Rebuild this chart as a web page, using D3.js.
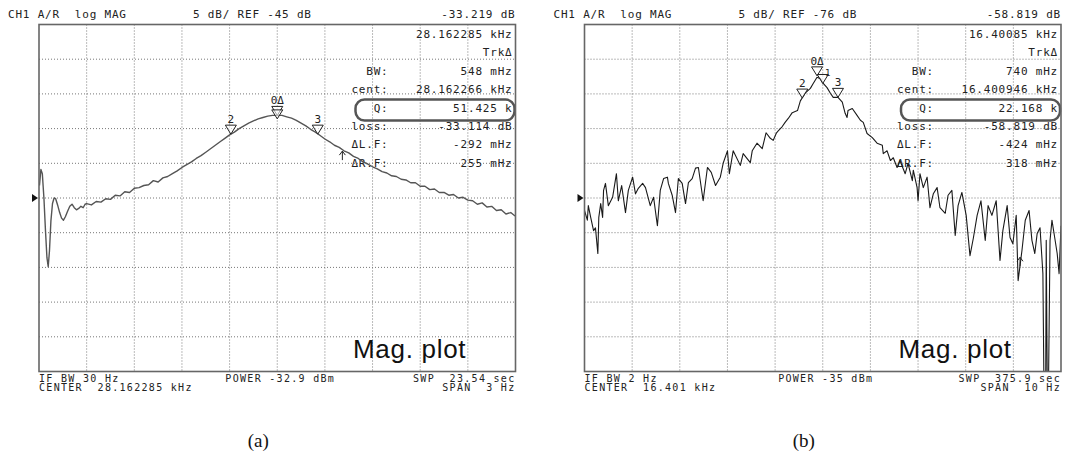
<!DOCTYPE html>
<html>
<head>
<meta charset="utf-8">
<script src="https://cdn.jsdelivr.net/npm/d3@7"></script>
<style>
body { margin: 0; background: #fff; }
svg { display: block; }
.mono { font-family: "DejaVu Sans Mono", "Liberation Mono", monospace; fill: #222; white-space: pre; }
</style>
</head>
<body>
<svg id="chart" width="1065" height="457"></svg>
<script>
// ---- data read off the two analyser screens ----
// trace (a): [offset from centre in Hz, magnitude in dB]
var traceA = [
  [-1.497,-43.2],[-1.488,-40.9],[-1.479,-41.5],[-1.469,-45.0],[-1.459,-49.8],[-1.450,-53.6],[-1.442,-54.9],
  [-1.434,-52.6],[-1.425,-48.3],[-1.415,-45.8],[-1.405,-45.0],[-1.395,-45.1],[-1.383,-46.0],[-1.370,-47.1],
  [-1.358,-47.9],[-1.346,-48.2],[-1.334,-47.7],[-1.320,-46.9],[-1.306,-46.2],[-1.292,-45.9],[-1.278,-46.4],
  [-1.264,-46.7],[-1.250,-46.5],[-1.236,-46.2],[-1.222,-46.4],[-1.210,-45.9],
  [-1.200,-45.8],[-1.170,-46.0],[-1.140,-45.5],[-1.110,-45.6],[-1.080,-45.1],[-1.050,-45.2],[-1.020,-44.6],
  [-0.990,-44.7],[-0.960,-44.1],[-0.930,-44.2],[-0.900,-43.6],[-0.870,-43.5],[-0.840,-43.2],[-0.810,-43.1],
  [-0.780,-42.5],[-0.750,-42.7],[-0.720,-42.1],[-0.690,-41.9],[-0.660,-41.5],[-0.630,-41.1],[-0.600,-40.6],
  [-0.570,-40.2],[-0.540,-39.8],[-0.510,-39.3],[-0.480,-38.9],[-0.450,-38.4],[-0.420,-37.9],[-0.390,-37.4],
  [-0.360,-36.9],[-0.330,-36.4],[-0.300,-35.9],[-0.270,-35.5],[-0.240,-35.0],[-0.210,-34.6],[-0.180,-34.2],
  [-0.150,-33.9],[-0.120,-33.6],[-0.090,-33.4],[-0.060,-33.2],[-0.030,-33.1],[0.000,-33.1],[0.030,-33.1],
  [0.060,-33.3],[0.090,-33.5],[0.120,-33.8],[0.150,-34.2],[0.180,-34.6],[0.210,-35.1],[0.240,-35.5],
  [0.270,-36.0],[0.300,-36.5],[0.330,-36.9],[0.360,-37.4],[0.390,-37.7],[0.420,-38.2],[0.450,-38.5],
  [0.480,-39.0],[0.510,-39.3],[0.540,-39.8],[0.570,-40.1],[0.600,-40.5],[0.630,-40.8],[0.660,-41.2],
  [0.690,-41.4],[0.720,-41.8],[0.750,-41.9],[0.780,-42.3],[0.810,-42.4],[0.840,-42.8],[0.870,-42.8],
  [0.900,-43.3],[0.930,-43.3],[0.960,-43.8],[0.990,-43.7],[1.020,-44.2],[1.050,-44.2],[1.080,-44.6],
  [1.110,-44.5],[1.140,-45.0],[1.170,-44.9],[1.200,-45.3],[1.230,-45.4],[1.260,-45.9],[1.290,-45.7],
  [1.320,-46.3],[1.350,-46.2],[1.380,-46.8],[1.410,-46.7],[1.440,-47.3],[1.470,-47.1],[1.497,-47.6]
];
// trace (b)
var traceB = [
  [-5.00,-77.8],[-4.94,-79.2],[-4.92,-77.1],[-4.87,-78.8],[-4.81,-80.7],[-4.77,-80.3],[-4.72,-84.0],[-4.70,-78.8],
  [-4.66,-76.8],[-4.62,-78.8],[-4.60,-74.9],[-4.56,-73.9],[-4.50,-77.1],[-4.41,-75.9],[-4.33,-72.5],[-4.29,-76.4],
  [-4.22,-74.2],[-4.14,-78.1],[-4.08,-74.9],[-3.99,-73.0],[-3.93,-75.4],[-3.87,-74.6],[-3.78,-73.9],[-3.72,-74.5],
  [-3.62,-77.1],[-3.55,-75.9],[-3.47,-80.0],[-3.41,-74.9],[-3.34,-73.2],[-3.26,-73.0],[-3.24,-73.9],[-3.16,-75.6],
  [-3.09,-78.1],[-3.03,-73.2],[-2.95,-73.9],[-2.88,-76.8],[-2.82,-73.8],[-2.74,-73.2],[-2.67,-71.7],[-2.61,-71.6],
  [-2.51,-76.4],[-2.42,-71.6],[-2.34,-72.3],[-2.25,-74.2],[-2.15,-73.0],[-2.09,-71.0],[-2.00,-69.2],[-1.96,-72.5],
  [-1.88,-69.2],[-1.73,-71.3],[-1.67,-69.6],[-1.52,-70.9],[-1.48,-69.2],[-1.38,-68.1],[-1.27,-68.9],[-1.19,-66.6],
  [-1.10,-67.4],[-1.04,-67.7],[-0.97,-66.6],[-0.93,-66.3],[-0.85,-65.7],[-0.79,-65.1],[-0.72,-64.5],[-0.64,-63.7],
  [-0.53,-63.4],[-0.47,-62.0],[-0.37,-60.9],[-0.26,-60.2],[-0.20,-59.5],[-0.12,-58.6],[-0.05,-58.8],[0.01,-59.5],
  [0.09,-60.1],[0.16,-60.9],[0.22,-61.5],[0.32,-61.5],[0.41,-62.2],[0.47,-63.8],[0.51,-64.4],[0.53,-63.4],
  [0.62,-63.1],[0.72,-64.1],[0.79,-64.8],[0.85,-65.1],[0.93,-66.7],[1.04,-67.3],[1.14,-68.1],[1.25,-68.4],
  [1.27,-69.6],[1.35,-69.2],[1.42,-70.6],[1.48,-70.2],[1.56,-71.6],[1.62,-70.6],[1.73,-72.5],[1.79,-71.0],
  [1.88,-73.5],[1.90,-72.0],[1.98,-74.5],[2.00,-76.4],[2.04,-72.5],[2.11,-74.5],[2.19,-73.0],[2.25,-77.4],
  [2.32,-75.4],[2.40,-74.5],[2.46,-77.4],[2.57,-78.2],[2.63,-75.6],[2.71,-74.9],[2.78,-81.4],[2.84,-77.1],
  [2.92,-75.2],[3.01,-78.5],[3.09,-84.3],[3.16,-81.8],[3.24,-78.5],[3.32,-76.4],[3.41,-82.1],[3.47,-77.1],
  [3.55,-78.5],[3.64,-76.4],[3.72,-85.0],[3.78,-80.7],[3.87,-77.1],[3.93,-81.7],[3.99,-82.6],[4.06,-78.5],
  [4.10,-87.9],[4.18,-83.6],[4.25,-79.2],[4.33,-77.8],[4.39,-82.1],[4.45,-84.0],[4.50,-81.1],[4.56,-80.3],
  [4.62,-86.9],[4.64,-101.5],[4.68,-101.5],[4.69,-82.1],[4.71,-101.5],[4.74,-101.5],[4.77,-82.1],[4.81,-79.2],
  [4.87,-81.8],[4.92,-84.0],[4.96,-86.9],[5.00,-80.0]
];

// markers: label, offset (Hz), level (dB)
var markersA = [["0\u0394", 0.0, -33.1], ["", 0.0, -33.6], ["2", -0.292, -35.8], ["3", 0.255, -35.8]];
var markersB = [["0\u0394", -0.12, -58.4], ["1", 0.0, -59.5], ["2", -0.43, -61.6], ["3", 0.32, -61.5]];
var pointersA = [[0.41, -38.1]];
var pointersB = [[4.14, -84.4]];

// scale settings: span (Hz), dB per division, reference level (dB)
var spanA = 3, divA = 5, refA = -45;
var spanB = 10, divB = 5, refB = -76;

var headerA = ["CH1 A/R  log MAG", "5 dB/ REF -45 dB", "-33.219 dB"];
var headerB = ["CH1 A/R  log MAG", "5 dB/ REF -76 dB", "-58.819 dB"];
var footerA = ["IF BW 30 Hz", "CENTER  28.162285 kHz", "POWER -32.9 dBm", "SWP  23.54 sec", "SPAN  3 Hz"];
var footerB = ["IF BW 2 Hz", "CENTER  16.401 kHz", "POWER -35 dBm", "SWP  375.9 sec", "SPAN  10 Hz"];

var readoutLabels = ["", "", "BW:", "cent:", "Q:", "loss:", "\u0394L.F:", "\u0394R.F:"];
var readoutA = ["28.162285 kHz", "Trk\u0394", "548 mHz", "28.162266 kHz", "51.425 k", "-33.114 dB", "-292 mHz", "255 mHz"];
var readoutB = ["16.40085 kHz", "Trk\u0394", "740 mHz", "16.400946 kHz", "22.168 k", "-58.819 dB", "-424 mHz", "318 mHz"];

var captions = ["(a)", "(b)"];

// ---- layout ----
var plotTop = 24.5, plotBottom = 371.5, plotW = 476.5;
var svg = d3.select("#chart");

function drawPanel(p) {
  var x = d3.scaleLinear().domain([-p.span / 2, p.span / 2]).range([p.x0, p.x0 + plotW]);
  var y = d3.scaleLinear().domain([p.ref - 5 * p.div, p.ref + 5 * p.div]).range([plotBottom, plotTop]);
  var x1 = p.x0 + plotW;
  var g = svg.append("g");

  // dotted graticule
  var xt = d3.range(-4, 5).map(function (i) { return i * p.span / 10; });
  var yt = d3.range(-4, 5).map(function (i) { return p.ref + i * p.div; });
  g.selectAll(".vg").data(xt).join("line")
    .attr("x1", x).attr("x2", x).attr("y1", plotTop).attr("y2", plotBottom)
    .attr("stroke", "#777").attr("stroke-width", 1).attr("stroke-dasharray", "1,2");
  g.selectAll(".hg").data(yt).join("line")
    .attr("x1", p.x0).attr("x2", x1).attr("y1", y).attr("y2", y)
    .attr("stroke", "#777").attr("stroke-width", 1).attr("stroke-dasharray", "1,2");

  // marker readout
  var rowY = function (i) { return 38 + i * 18.4; };
  g.selectAll(".rl").data(readoutLabels).join("text")
    .attr("class", "mono").attr("x", x1 - 127).attr("y", function (d, i) { return rowY(i); })
    .attr("text-anchor", "end").attr("font-size", 11).attr("letter-spacing", 0.8)
    .text(function (d) { return d; });
  g.selectAll(".rv").data(p.readout).join("text")
    .attr("class", "mono").attr("x", x1 - 3).attr("y", function (d, i) { return rowY(i); })
    .attr("text-anchor", "end").attr("font-size", 11).attr("letter-spacing", 0.8)
    .text(function (d) { return d; });
  g.append("rect")
    .attr("x", x1 - 160).attr("y", rowY(4) - 12).attr("width", 159).attr("height", 21)
    .attr("rx", 9).attr("fill", "none").attr("stroke", "#555").attr("stroke-width", 2.5);

  // trace
  var clipId = "clip" + p.key;
  svg.append("clipPath").attr("id", clipId).append("rect")
    .attr("x", p.x0).attr("y", plotTop).attr("width", plotW).attr("height", plotBottom - plotTop);
  var line = d3.line().x(function (d) { return x(d[0]); }).y(function (d) { return y(d[1]); });
  g.append("path").datum(p.trace)
    .attr("clip-path", "url(#" + clipId + ")")
    .attr("d", line).attr("fill", "none")
    .attr("stroke", p.traceColor).attr("stroke-width", p.traceWidth).attr("stroke-linejoin", "round");

  // markers (a marker sitting just below another puts its number beside the triangle)
  var mk = g.selectAll(".mk").data(p.markers).join("g")
    .attr("transform", function (d) { return "translate(" + x(d[1]) + "," + y(d[2]) + ")"; });
  mk.append("path").attr("d", "M0,0L-5.5,-9L5.5,-9Z")
    .attr("fill", "#fff").attr("fill-opacity", 0.6).attr("stroke", "#222").attr("stroke-width", 1);
  mk.append("text").attr("class", "mono")
    .attr("x", function (d) { return d[0] === "1" ? 5 : 0; })
    .attr("y", function (d) { return d[0] === "1" ? -7 : -11; })
    .attr("text-anchor", "middle")
    .attr("font-size", function (d) { return d[0] === "1" ? 9 : 11; })
    .text(function (d) { return d[0]; });

  g.selectAll(".pt").data(p.pointers).join("path")
    .attr("d", function (d) {
      var px = x(d[0]), py = y(d[1]) + 1;
      return "M" + px + "," + (py + 9) + "L" + px + "," + py + "M" + (px - 3) + "," + (py + 4) + "L" + px + "," + py + "L" + (px + 3) + "," + (py + 4);
    })
    .attr("fill", "none").attr("stroke", "#222").attr("stroke-width", 1);

  // frame and reference arrow
  g.append("rect").attr("x", p.x0).attr("y", plotTop).attr("width", plotW).attr("height", plotBottom - plotTop)
    .attr("fill", "none").attr("stroke", "#666").attr("stroke-width", 1.6);
  var ry = y(p.ref);
  g.append("path").attr("d", "M" + (p.x0 - 7) + "," + (ry - 4) + "L" + (p.x0 - 1) + "," + ry + "L" + (p.x0 - 7) + "," + (ry + 4) + "Z")
    .attr("fill", "#111");

  // header
  g.append("text").attr("class", "mono").attr("x", p.x0 - 31).attr("y", 18).attr("font-size", 11)
    .attr("letter-spacing", 0.8).text(p.header[0]);
  g.append("text").attr("class", "mono").attr("x", p.x0 + 154).attr("y", 18).attr("font-size", 11)
    .attr("letter-spacing", 0.8).text(p.header[1]);
  g.append("text").attr("class", "mono").attr("x", x1).attr("y", 18).attr("font-size", 11)
    .attr("letter-spacing", 0.8).attr("text-anchor", "end").text(p.header[2]);

  // footer
  function ft(txt, xx, yy, anchor) {
    g.append("text").attr("class", "mono").attr("x", xx).attr("y", yy)
      .attr("font-size", 10).attr("letter-spacing", 1.3)
      .attr("text-anchor", anchor).text(txt);
  }
  ft(p.footer[0], p.x0, 382, "start");
  ft(p.footer[1], p.x0, 391, "start");
  ft(p.footer[2], p.x0 + plotW / 2 + 3, 382, "middle");
  ft(p.footer[3], x1, 382, "end");
  ft(p.footer[4], x1, 391, "end");

  // overlay label and caption
  g.append("text").attr("x", p.x0 + 314).attr("y", 358)
    .attr("font-family", "Liberation Sans, Arial, sans-serif").attr("font-size", 26)
    .attr("letter-spacing", 0.7).attr("fill", "#111").text("Mag. plot");
  g.append("text").attr("x", p.x0 + plotW / 2 - 19).attr("y", 447).attr("text-anchor", "middle")
    .attr("font-family", "Liberation Serif, Times New Roman, serif").attr("font-size", 19)
    .attr("fill", "#111").text(p.caption);
}

drawPanel({ key: "a", x0: 39, span: spanA, div: divA, ref: refA, trace: traceA, markers: markersA,
  pointers: pointersA, header: headerA, footer: footerA, readout: readoutA, caption: captions[0],
  traceColor: "#555", traceWidth: 1.4 });
drawPanel({ key: "b", x0: 584.5, span: spanB, div: divB, ref: refB, trace: traceB, markers: markersB,
  pointers: pointersB, header: headerB, footer: footerB, readout: readoutB, caption: captions[1],
  traceColor: "#1a1a1a", traceWidth: 1.1 });
</script>
</body>
</html>
